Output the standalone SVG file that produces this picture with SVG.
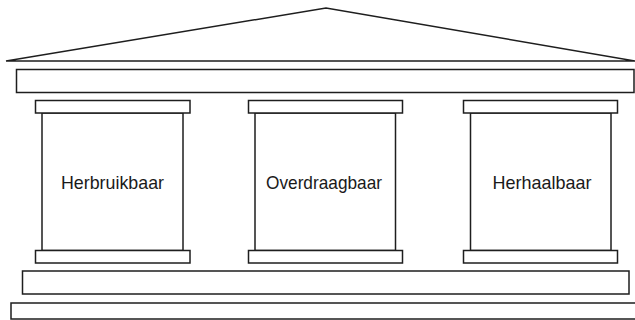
<svg xmlns="http://www.w3.org/2000/svg" width="635" height="320" viewBox="0 0 635 320">
  <style>
    .ln { fill: #ffffff; stroke: #1e1e1e; stroke-width: 1.5; }
    .lbl { font-family: "Liberation Sans", Arial, sans-serif; font-size: 19px; fill: #1a1a1a; text-anchor: middle; }
  </style>
  <rect x="0" y="0" width="635" height="320" fill="#ffffff"/>

  <!-- roof -->
  <g id="roof">
    <polygon class="ln" points="6,61 326,8 635,61"/>
  </g>

  <!-- entablature beam -->
  <g id="beam">
    <rect class="ln" x="16.5" y="69.5" width="617.5" height="23"/>
  </g>

  <!-- pillars -->
  <g id="pillar-herbruikbaar">
    <rect class="ln" x="42" y="113" width="141" height="137.5"/>
    <rect class="ln" x="35.5" y="100.5" width="154.5" height="12.5"/>
    <rect class="ln" x="35.5" y="250.5" width="154.5" height="12.5"/>
    <text class="lbl" x="112.5" y="189" textLength="103" lengthAdjust="spacingAndGlyphs">Herbruikbaar</text>
  </g>
  <g id="pillar-overdraagbaar">
    <rect class="ln" x="255" y="113" width="140.5" height="137.5"/>
    <rect class="ln" x="248.5" y="100.5" width="154" height="12.5"/>
    <rect class="ln" x="248.5" y="250.5" width="154" height="12.5"/>
    <text class="lbl" x="324" y="189" textLength="116" lengthAdjust="spacingAndGlyphs">Overdraagbaar</text>
  </g>
  <g id="pillar-herhaalbaar">
    <rect class="ln" x="470.5" y="113" width="140.5" height="137.5"/>
    <rect class="ln" x="463.5" y="100.5" width="154" height="12.5"/>
    <rect class="ln" x="463.5" y="250.5" width="154" height="12.5"/>
    <text class="lbl" x="542" y="189" textLength="99" lengthAdjust="spacingAndGlyphs">Herhaalbaar</text>
  </g>

  <!-- base steps -->
  <g id="steps">
    <rect class="ln" x="22.5" y="271" width="606.5" height="23"/>
    <rect class="ln" x="11" y="303" width="630" height="16"/>
  </g>
</svg>
